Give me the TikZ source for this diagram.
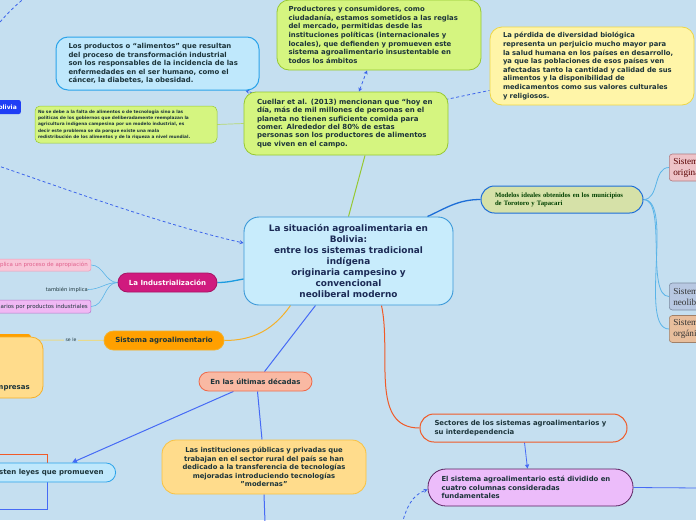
\documentclass[tikz,border=0pt]{standalone}
\usepackage{xcolor}
\usepackage{fontspec}
\setmainfont{DejaVu Sans}
\newfontfamily\modelofont{Liberation Serif}
\usepackage{tikz}
\usetikzlibrary{arrows.meta,backgrounds}

\definecolor{fondo}{RGB}{197,223,240}
\definecolor{tinta}{RGB}{28,52,58}
\definecolor{tintac}{RGB}{27,42,85}
\definecolor{verde}{RGB}{213,245,128}
\definecolor{verdeb}{RGB}{150,200,50}
\definecolor{celestef}{RGB}{191,232,252}
\definecolor{celesteb}{RGB}{43,163,234}
\definecolor{amarillo}{RGB}{255,245,168}
\definecolor{amarillob}{RGB}{238,214,70}
\definecolor{centralf}{RGB}{200,236,252}
\definecolor{centralb}{RGB}{58,152,216}
\definecolor{magenta}{RGB}{208,26,126}
\definecolor{naranja}{RGB}{255,160,0}
\definecolor{naranjab}{RGB}{245,176,40}
\definecolor{salmon}{RGB}{249,185,163}
\definecolor{salmonb}{RGB}{238,106,75}
\definecolor{crema}{RGB}{255,220,140}
\definecolor{cremab}{RGB}{248,194,66}
\definecolor{rojizo}{RGB}{240,90,40}
\definecolor{lila}{RGB}{236,188,250}
\definecolor{lilab}{RGB}{90,32,96}
\definecolor{oliva}{RGB}{214,225,168}
\definecolor{azulm}{RGB}{30,110,215}
\definecolor{azul}{RGB}{70,106,245}
\definecolor{azulind}{RGB}{28,155,224}
\definecolor{celeste}{RGB}{90,180,232}
\definecolor{punteado}{RGB}{60,100,235}
\definecolor{caqui}{RGB}{232,218,140}
\definecolor{rosaf}{RGB}{238,195,200}
\definecolor{rosab}{RGB}{176,122,128}
\definecolor{grisf}{RGB}{184,200,226}
\definecolor{grisb}{RGB}{122,138,160}
\definecolor{durazno}{RGB}{232,190,156}
\definecolor{duraznob}{RGB}{160,128,104}
\definecolor{rosachica}{RGB}{249,198,216}
\definecolor{rosachicab}{RGB}{240,154,184}
\definecolor{rosatexto}{RGB}{224,96,140}
\definecolor{moradof}{RGB}{240,184,244}
\definecolor{moradob}{RGB}{181,116,200}
\definecolor{bolivia}{RGB}{31,62,245}

\begin{document}
\begin{tikzpicture}[x=1pt,y=-1pt,
    idea/.style={draw,line width=0.8pt,rounded corners=12pt,inner sep=0pt,align=left,text=tinta,
        font=\fontsize{6.9}{8.5}\selectfont\bfseries},
    pill/.style={draw,line width=0.8pt,rounded corners=9.5pt,inner sep=0pt,minimum height=19pt,text=tinta,
        font=\fontsize{7}{8}\selectfont\bfseries},
    chica/.style={draw,line width=0.5pt,rounded corners=2pt,inner sep=0pt,inner xsep=3pt,
        font=\fontsize{5.5}{6.5}\selectfont},
    lateral/.style={draw,line width=0.6pt,rounded corners=3pt,anchor=west,minimum width=90pt,minimum height=27pt,
        inner sep=0pt,inner xsep=4pt,align=left,text width=110pt,text=black!80,font=\modelofont\fontsize{9.2}{11}\selectfont},
    enlace/.style={dash pattern=on 3pt off 2.5pt,line width=0.8pt,color=punteado},
    punta/.style={-{Stealth[length=4pt,width=4pt]}}]

\useasboundingbox (0,0) rectangle (696,520);
\clip (0,0) rectangle (696,520);

% coordenadas libres
\coordinate (origenizq) at (26,-3);
\coordinate (vueltaizq) at (-20,160);
\coordinate (bordeabajo) at (265,522);
\coordinate (bordeder) at (700,488);
\coordinate (origenpunteado) at (402,524);
\coordinate (codo) at (47,472.5);
\coordinate (hijoarriba) at (-5,454);
\coordinate (hijoabajo) at (-5,509);

% ideas de arriba
\node[idea,fill=verde,draw=verdeb,minimum width=204pt,minimum height=70pt,text width=181pt,
    font=\fontsize{6.9}{8.7}\selectfont\bfseries] (productores) at (379,35)
    {Productores y consumidores, como\\ciudadanía, estamos sometidos a las reglas\\del mercado, permitidas desde las\\instituciones políticas (internacionales y\\locales), que defienden y promueven este\\sistema agroalimentario insustentable en\\todos los ámbitos};
\node[idea,fill=celestef,draw=celesteb,line width=1pt,minimum width=203pt,minimum height=53pt,text width=178pt] (productos) at (157.5,63.5)
    {Los productos o “alimentos” que resultan\\del proceso de transformación industrial\\son los responsables de la incidencia de las\\enfermedades en el ser humano, como el\\cáncer, la diabetes, la obesidad.};
\node[idea,fill=amarillo,draw=amarillob,minimum width=204pt,minimum height=78pt,text width=178pt,
    font=\fontsize{6.8}{8.6}\selectfont\bfseries] (perdida) at (592,66)
    {La pérdida de diversidad biológica\\representa un perjuicio mucho mayor para\\la salud humana en los países en desarrollo,\\ya que las poblaciones de esos países ven\\afectadas tanto la cantidad y calidad de sus\\alimentos y la disponibilidad de\\medicamentos como sus valores culturales\\y religiosos.};
\node[idea,fill=verde,draw=verdeb,minimum width=204pt,minimum height=63pt,text width=178pt,
    font=\fontsize{7}{8.3}\selectfont\bfseries] (cuellar) at (346,123.5)
    {Cuellar et al. (2013) mencionan que “hoy en\\día, más de mil millones de personas en el\\planeta no tienen suficiente comida para\\comer. Alrededor del 80\% de estas\\personas son los productores de alimentos\\que viven en el campo.};
\node[chica,fill=verde,draw=verdeb,rounded corners=5pt,minimum width=182pt,minimum height=37pt,text width=176pt,
    align=left,text=tinta,font=\fontsize{4.3}{6.3}\selectfont\bfseries] (gobiernos) at (126,124.5)
    {No se debe a la falta de alimentos o de tecnología sino a las\\políticas de los gobiernos que deliberadamente reemplazan la\\agricultura indígena campesina por un modelo industrial, es\\decir este problema se da porque existe una mala\\redistribución de los alimentos y de la riqueza a nivel mundial.};
\node[fill=bolivia,rounded corners=2pt,anchor=east,minimum height=14pt,inner sep=0pt,inner xsep=4pt,
    text=white,font=\fontsize{6}{7}\selectfont\bfseries] (bolivia) at (21,107) {Bolivia};

% idea central
\node[draw=centralb,fill=centralf,line width=0.9pt,rounded corners=15pt,minimum width=209pt,minimum height=88pt,
    inner sep=0pt,text width=195pt,align=center,text=tintac,font=\fontsize{8.9}{11.1}\selectfont\bfseries] (central) at (348.5,261)
    {La situación agroalimentaria en\\Bolivia:\\entre los sistemas tradicional\\indígena\\originaria campesino y\\convencional\\neoliberal moderno};

% rama derecha
\node[draw=azulm,fill=oliva,line width=1pt,rounded corners=13.5pt,minimum width=162pt,minimum height=27pt,inner sep=0pt,
    text width=134pt,align=left,text=green!25!black,font=\modelofont\fontsize{6.7}{8}\selectfont\bfseries] (modelos) at (562,199.5)
    {Modelos ideales obtenidos en los municipios\\de Torotoro y Tapacari};
\node[lateral,fill=rosaf,draw=rosab,text=red!35!black] (indigena) at (669,167.5) {Sistema indígena\\originario campesino};
\node[lateral,fill=grisf,draw=grisb] (neoliberal) at (669,296.5) {Sistema convencional\\neoliberal};
\node[lateral,fill=durazno,draw=duraznob] (organico) at (669,329) {Sistema agroecológico\\orgánico};

% rama izquierda
\node[pill,fill=magenta,draw=magenta!80!black,minimum width=99pt,text=white] (industria) at (167.5,282.5) {La Industrialización};
\node[chica,fill=rosachica,draw=rosachicab,text=rosatexto,anchor=east,minimum height=12pt] (apropiacion) at (91,265)
    {Implica un proceso de apropiación};
\node[anchor=east,inner sep=0pt,text=tinta,font=\fontsize{5.2}{6}\selectfont] (tambien) at (88,289.5) {también implica};
\node[chica,fill=moradof,draw=moradob,text=tinta,anchor=east,minimum height=13pt] (reemplazo) at (91,306.5)
    {reemplazo de alimentos originarios por productos industriales};

\node[pill,fill=naranja,draw=naranjab,minimum width=120pt] (sistemaagro) at (164,340.5) {Sistema agroalimentario};
\node[fill=naranja,rounded corners=3pt,minimum width=92pt,minimum height=20pt,inner sep=0pt] (tapa) at (-15,344) {};
\node[draw=naranjab,fill=crema,line width=0.8pt,rounded corners=12pt,minimum width=92pt,minimum height=61pt,inner sep=0pt] (empresas) at (-3,367.5) {};
\node[anchor=east,inner sep=0pt,text=tinta,font=\fontsize{7}{8}\selectfont\bfseries] (empresastexto) at (30,388) {empresas};

% rama de abajo
\node[pill,fill=salmon,draw=salmonb,minimum width=113pt] (ultimas) at (255.5,381.5) {En las últimas décadas};
\node[idea,fill=crema,draw=cremab,rounded corners=14pt,minimum width=204pt,minimum height=54pt,text width=188pt,align=center,
    font=\fontsize{6.8}{8.6}\selectfont\bfseries] (instituciones) at (264,467)
    {Las instituciones públicas y privadas que\\trabajan en el sector rural del país se han\\dedicado a la transferencia de tecnologías\\mejoradas introduciendo tecnologías\\"modernas"};
\node[pill,fill=celestef,draw=celesteb,anchor=east,inner xsep=12pt] (existen) at (116,472.5) {Existen leyes que promueven};

\node[idea,fill=fondo,draw=rojizo,line width=1pt,rounded corners=14pt,minimum width=207pt,minimum height=28pt,text width=178pt] (sectores) at (523.5,428)
    {Sectores de los sistemas agroalimentarios y\\su interdependencia};
\node[idea,fill=lila,draw=lilab,rounded corners=18pt,minimum width=205pt,minimum height=37pt,text width=178pt] (elsistema) at (530.5,487.5)
    {El sistema agroalimentario está dividido en\\cuatro columnas consideradas\\fundamentales};

% conectores
\begin{scope}[on background layer]
    \clip (0,0) rectangle (696,520);
    \fill[fondo] (0,0) rectangle (696,520);

    \draw[enlace,punta] (origenizq) .. controls (-40,48) and (-60,148) .. (vueltaizq)
        .. controls (20,172) and (150,222) .. ([yshift=18pt]central.west);
    \draw[line width=1pt,verdeb] ([xshift=19pt]cuellar.south) -- (central.north);
    \draw[line width=0.7pt,verdeb!70] (gobiernos.east) -- (cuellar.west);
    \draw[enlace,punta] ([xshift=14pt,yshift=-3pt]cuellar.north west) -- ([xshift=-14pt]productos.south east);
    \draw[enlace,{Stealth[length=4pt,width=4pt]}-{Stealth[length=4pt,width=4pt]}] ([xshift=13pt]cuellar.north) -- ([xshift=-12pt]productores.south);
    \draw[enlace] ([xshift=-3pt,yshift=-8pt]cuellar.north east) -- ([yshift=15pt]perdida.south west);

    \draw[line width=1.3pt,azulm] ([xshift=79pt]central.north) to[out=25,in=180] (modelos.west);
    \draw[line width=0.8pt,celeste] (modelos.east) to[out=0,in=180] (indigena.west);
    \draw[line width=0.8pt,celeste] (modelos.east) to[out=0,in=180,looseness=0.6] (neoliberal.west);
    \draw[line width=0.8pt,celeste] (modelos.east) to[out=0,in=180,looseness=0.6] (organico.west);

    \draw[line width=1.3pt,azulind] (industria.east) to[out=0,in=190] ([yshift=-18pt]central.west);
    \draw[line width=0.6pt,celeste] (industria.west) to[out=180,in=0] (apropiacion.east);
    \draw[line width=0.6pt,celeste] (industria.west) to[out=180,in=0] (tambien.east);
    \draw[line width=0.6pt,celeste] (industria.west) to[out=180,in=0] (reemplazo.east);

    \draw[line width=1pt,naranjab] (sistemaagro.east) to[out=0,in=235] ([xshift=-58pt]central.south);
    \draw[line width=1pt,caqui] (sistemaagro.west) -- node[fill=fondo,inner sep=1.5pt,text=tinta,font=\fontsize{4.6}{5}\selectfont]{se le} ([yshift=27.5pt,xshift=-5pt]empresas.east);

    \draw[line width=1pt,azul] ([xshift=-33pt]central.south) -- ([xshift=9pt]ultimas.north);
    \draw[line width=1pt,azul,-{Triangle[length=5pt,width=5pt]}] ([xshift=-22pt]ultimas.south) -- ([xshift=-44pt]existen.north east);
    \draw[line width=1pt,azul] ([xshift=2pt]ultimas.south) -- ([xshift=-2pt]instituciones.north);
    \draw[line width=1pt,azul] (instituciones.south) -- (bordeabajo);
    \draw[line width=1pt,rojizo] (codo) |- (hijoarriba);
    \draw[line width=1pt,azul] (codo) |- (hijoabajo);

    \draw[line width=1pt,rojizo] ([xshift=33pt]central.south) to[out=-78,in=180] (sectores.west);
    \draw[line width=0.8pt,azul,-{Triangle[length=4pt,width=4pt]}] ([xshift=1pt]sectores.south) -- ([xshift=-3pt]elsistema.north);
    \draw[line width=0.8pt,azul] (elsistema.east) -- (bordeder);
    \draw[enlace,punta] (origenpunteado) to[out=75,in=200] ([yshift=-2pt]elsistema.west);
\end{scope}

\end{tikzpicture}
\end{document}
